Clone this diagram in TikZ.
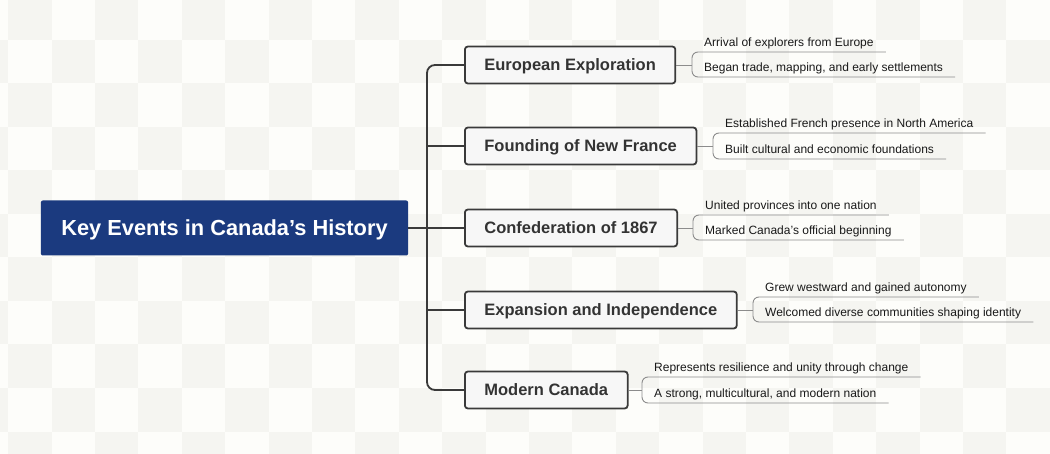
\documentclass[tikz,border=0pt]{standalone}
\usepackage{fontspec}
\setmainfont{Liberation Sans}
\definecolor{rootblue}{HTML}{1B3A7F}
\definecolor{branchline}{HTML}{3A3A3A}
\definecolor{leafline}{HTML}{8C8C8C}
\definecolor{tilegray}{HTML}{F5F5F1}
\definecolor{tilewhite}{HTML}{FDFDFA}
\tikzset{
  root/.style={fill=rootblue, rounded corners=2pt, text=white, font=\fontsize{21.8}{24}\selectfont\bfseries, minimum height=55pt, inner xsep=20.5pt, text height=15.6pt, text depth=0pt},
  branch/.style={draw=branchline, line width=1.8pt, fill=white!97!black, rounded corners=3pt, text=black!80, font=\fontsize{16.5}{19}\selectfont\bfseries, minimum height=37pt, inner xsep=19.5pt, text height=11.8pt, text depth=0pt, anchor=west},
  leaf/.style={anchor=south west, font=\fontsize{12}{14}\selectfont, text=black!90, inner xsep=12pt, inner ysep=2pt, text height=9pt, text depth=3pt},
  trunk/.style={draw=branchline, line width=1.8pt},
  twig/.style={draw=leafline, line width=0.9pt},
}

\begin{document}
\begin{tikzpicture}[x=1pt, y=-1pt]
	%background tiles
	\useasboundingbox (0,0) rectangle (1050,454);
	\fill[tilewhite] (0,0) rectangle (1050,454);
	\foreach \i in {0,...,25}
		\foreach \j in {0,...,10}{
			\pgfmathparse{int(mod(\i+\j,2))}
			\ifnum\pgfmathresult=1
				\fill[tilegray] (-35.3+43.4*\i, -3.5+43.5*\j) rectangle ++(43.4,43.5);
			\fi
		}

	%root
	\node[root] (root) at (224.5,228) {Key Events in Canada’s History};

	%branches
	\node[branch] (expl) at (464,65) {European Exploration};
	\node[branch] (nfr) at (464,146) {Founding of New France};
	\node[branch] (conf) at (464,228) {Confederation of 1867};
	\node[branch] (indep) at (464,310) {Expansion and Independence};
	\node[branch] (modern) at (464,390) {Modern Canada};

	%leaves
	\node[leaf] (expl1) at (692,52) {Arrival of explorers from Europe};
	\node[leaf] (expl2) at (692,77) {Began trade, mapping, and early settlements};
	\node[leaf] (nfr1) at (713,133) {Established French presence in North America};
	\node[leaf] (nfr2) at (713,159) {Built cultural and economic foundations};
	\node[leaf] (conf1) at (693,215) {United provinces into one nation};
	\node[leaf] (conf2) at (693,240) {Marked Canada’s official beginning};
	\node[leaf] (indep1) at (753,297) {Grew westward and gained autonomy};
	\node[leaf] (indep2) at (753,322) {Welcomed diverse communities shaping identity};
	\node[leaf] (modern1) at (642,377) {Represents resilience and unity through change};
	\node[leaf] (modern2) at (642,403) {A strong, multicultural, and modern nation};

	%connectors
	\coordinate (fork) at (427,228);
	\draw[trunk, rounded corners=8pt] (expl.west) -- (expl.west -| fork) -- (modern.west -| fork) -- (modern.west);
	\draw[trunk] (root.east) -- (conf.west);
	\foreach \b in {nfr,indep} \draw[trunk] (\b.west -| fork) -- (\b.west);

	\foreach \b in {expl,nfr,conf,indep,modern}{
		\draw[twig] (\b.east) -- (\b.east -| \b1.west);
		\draw[twig, rounded corners=6pt] (\b1.south east) -- (\b1.south west) -- (\b2.south west) -- (\b2.south east);
	}
\end{tikzpicture}
\end{document}
